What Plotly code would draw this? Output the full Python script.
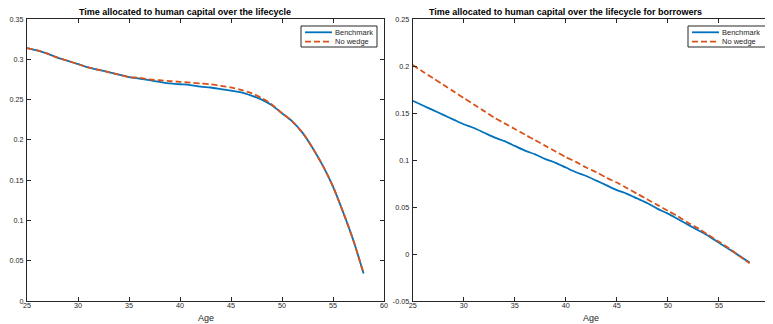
import plotly.graph_objects as go

# ---------------- data ----------------
ages = list(range(25, 59))

left_benchmark = [0.314, 0.311, 0.307, 0.302, 0.298, 0.294, 0.290, 0.287, 0.284, 0.281,
                  0.278, 0.276, 0.274, 0.272, 0.270, 0.269, 0.268, 0.266, 0.265, 0.263,
                  0.261, 0.259, 0.255, 0.250, 0.243, 0.233, 0.223, 0.209, 0.190, 0.168,
                  0.142, 0.110, 0.075, 0.034]
left_nowedge = [0.314, 0.311, 0.307, 0.302, 0.298, 0.294, 0.290, 0.287, 0.284, 0.281,
                0.278, 0.277, 0.275, 0.274, 0.273, 0.272, 0.271, 0.270, 0.269, 0.267,
                0.265, 0.262, 0.258, 0.252, 0.244, 0.233, 0.223, 0.209, 0.190, 0.168,
                0.142, 0.110, 0.075, 0.034]

right_benchmark = [0.163, 0.158, 0.153, 0.148, 0.143, 0.138, 0.134, 0.129, 0.124, 0.120,
                   0.115, 0.110, 0.106, 0.101, 0.097, 0.092, 0.087, 0.083, 0.078, 0.073,
                   0.068, 0.064, 0.059, 0.054, 0.048, 0.043, 0.037, 0.031, 0.025, 0.019,
                   0.012, 0.005, -0.002, -0.009]
right_nowedge = [0.201, 0.194, 0.187, 0.180, 0.173, 0.166, 0.159, 0.152, 0.145, 0.139,
                 0.133, 0.127, 0.121, 0.115, 0.109, 0.103, 0.098, 0.092, 0.087, 0.081,
                 0.076, 0.070, 0.064, 0.058, 0.052, 0.046, 0.040, 0.033, 0.027, 0.020,
                 0.013, 0.006, -0.002, -0.010]

x_ticks = [25, 30, 35, 40, 45, 50, 55, 60]
left_y_ticks = [0, 0.05, 0.1, 0.15, 0.2, 0.25, 0.3, 0.35]
left_y_labels = ["0", "0.05", "0.1", "0.15", "0.2", "0.25", "0.3", "0.35"]
right_y_ticks = [-0.05, 0, 0.05, 0.1, 0.15, 0.2, 0.25]
right_y_labels = ["-0.05", "0", "0.05", "0.1", "0.15", "0.2", "0.25"]

series_names = ["Benchmark", "No wedge"]
titles = ["Time allocated to human capital over the lifecycle",
          "Time allocated to human capital over the lifecycle for borrowers"]
x_title = "Age"

# ---------------- styling ----------------
BLUE = "#0072BD"
ORANGE = "#D95319"
AXC = "#262626"
FONT = "Liberation Sans, Arial, Helvetica, sans-serif"
DASH = "6px,3px"

# the page body has an 8px margin, so the figure starts at (8, 8) in the window
OFF = 8
W, H = 773 - OFF, 324 - OFF
PAGE_L, PAGE_T, PAGE_B, PAGE_R = 27, 19, 301, 770   # plot-area edges in window pixels
ML, MT = PAGE_L - OFF, PAGE_T - OFF
MB = H - (PAGE_B - OFF)
MR = W - (PAGE_R - OFF)
PW = W - ML - MR
PH = H - MT - MB

left_dom = [0, (384 - PAGE_L) / PW]
right_dom = [(412.7 - PAGE_L) / PW, 1]

fig = go.Figure()

panels = [("x", "y", left_benchmark, left_nowedge),
          ("x2", "y2", right_benchmark, right_nowedge)]
for xa, ya, bench, nw in panels:
    fig.add_trace(go.Scatter(x=ages, y=bench, name=series_names[0], mode="lines",
                             line=dict(color=BLUE, width=1.8, shape="spline", smoothing=0.8),
                             xaxis=xa, yaxis=ya, showlegend=False))
    fig.add_trace(go.Scatter(x=ages, y=nw, name=series_names[1], mode="lines",
                             line=dict(color=ORANGE, width=1.8, dash=DASH, shape="spline", smoothing=0.8),
                             xaxis=xa, yaxis=ya, showlegend=False))

axis_common = dict(showline=True, linecolor=AXC, linewidth=1, mirror="ticks",
                   ticks="inside", ticklen=4, tickcolor=AXC, tickwidth=1,
                   showgrid=False, zeroline=False, automargin=False,
                   tickfont=dict(family=FONT, size=7.2, color=AXC))

xaxis_common = dict(axis_common, range=[25, 60], tickvals=x_ticks, ticklabelstandoff=-3)
yaxis_common = dict(axis_common, ticklabelstandoff=1)

fig.update_layout(
    width=W, height=H,
    margin=dict(l=ML, r=MR, t=MT, b=MB),
    paper_bgcolor="white", plot_bgcolor="white",
    showlegend=False,
    xaxis=dict(xaxis_common, domain=left_dom, anchor="y"),
    yaxis=dict(yaxis_common, domain=[0, 1], anchor="x", range=[0, 0.35],
               tickvals=left_y_ticks, ticktext=left_y_labels),
    xaxis2=dict(xaxis_common, domain=right_dom, anchor="y2"),
    yaxis2=dict(yaxis_common, domain=[0, 1], anchor="x2", range=[-0.05, 0.25],
                tickvals=right_y_ticks, ticktext=right_y_labels),
)

# titles
title_centers = [185, 565.5]
for t, cx in zip(titles, title_centers):
    fig.add_annotation(text="<b>" + t + "</b>", xref="paper", yref="paper",
                       x=(cx - PAGE_L) / PW, y=1, yanchor="middle", xanchor="center", yshift=7,
                       showarrow=False, font=dict(family=FONT, size=9, color="black"))

# axis titles
for xr in ["x domain", "x2 domain"]:
    fig.add_annotation(text=x_title, xref=xr, yref="paper", x=0.5, y=0,
                       xanchor="center", yanchor="middle", yshift=-17,
                       showarrow=False, font=dict(family=FONT, size=9, color=AXC))

# legends (MATLAB-style compact boxes), positioned in axis-domain fractions
legend_boxes = [
    ("x domain", "y domain", 301, 377, 27, 357),
    ("x2 domain", "y2 domain", 688, 768, 412.7, 357.3),
]
row_y_px = [32.3, 41.7]
for xr, yr, bl, br, al, aw in legend_boxes:
    fx = lambda px: (px - al) / aw
    fy = lambda py: 1 - (py - PAGE_T) / PH
    fig.add_shape(type="rect", xref=xr, yref=yr, x0=fx(bl), x1=fx(br), y0=fy(47), y1=fy(26),
                  line=dict(color=AXC, width=1), fillcolor="white", layer="above")
    for i, (name, col, dash) in enumerate([(series_names[0], BLUE, "solid"),
                                            (series_names[1], ORANGE, DASH)]):
        fig.add_shape(type="line", xref=xr, yref=yr, x0=fx(bl + 4), x1=fx(bl + 31),
                      y0=fy(row_y_px[i]), y1=fy(row_y_px[i]),
                      line=dict(color=col, width=1.8, dash=dash), layer="above")
        fig.add_annotation(text=name, xref=xr, yref=yr, x=fx(bl + 32), y=fy(row_y_px[i]),
                           xanchor="left", yanchor="middle", showarrow=False,
                           font=dict(family=FONT, size=7.5, color=AXC))

fig.write_html("out.html")
